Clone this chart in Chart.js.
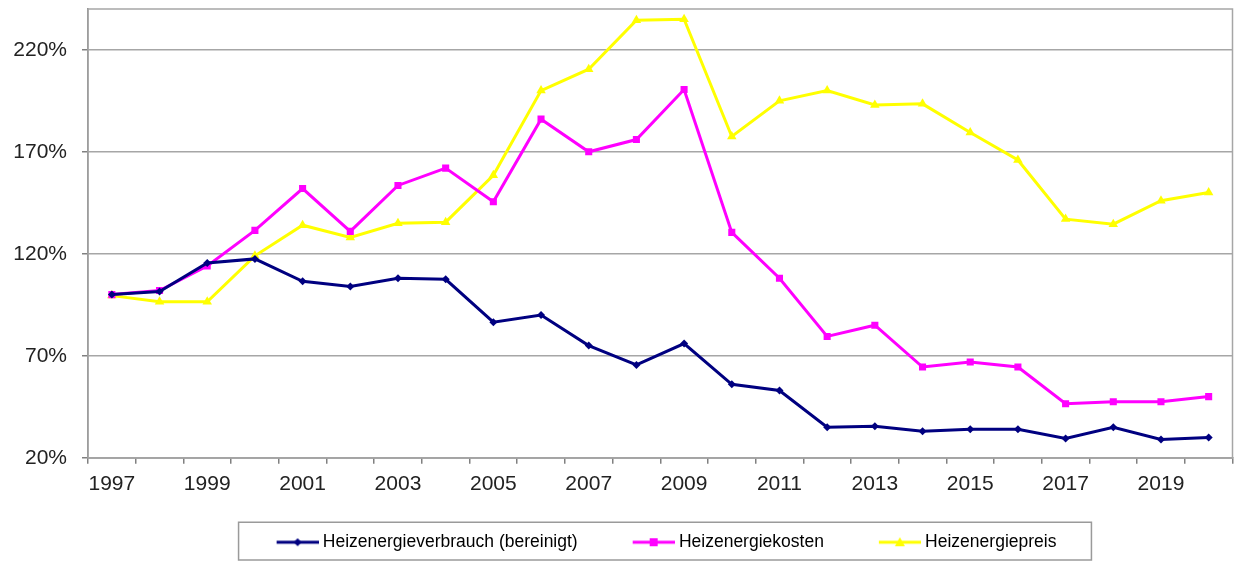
<!DOCTYPE html>
<html>
<head>
<meta charset="utf-8">
<script src="https://cdn.jsdelivr.net/npm/chart.js@4/dist/chart.umd.min.js"></script>
<style>
  html, body { margin: 0; padding: 0; background: #fff; overflow: hidden; }
  #wrap { width: 1238px; height: 561px; }
  canvas { display: block; }
</style>
</head>
<body>
<div id="wrap"><canvas id="myChart"></canvas></div>
<script>
const years = ['1997', '1998', '1999', '2000', '2001', '2002', '2003', '2004', '2005', '2006', '2007', '2008',
               '2009', '2010', '2011', '2012', '2013', '2014', '2015', '2016', '2017', '2018', '2019', '2020']
const verbrauch = [100, 101.5, 115.5, 117.5, 106.5, 104, 108, 107.5, 86.5, 90, 75, 65.5,
                   76, 56, 53, 35, 35.5, 33, 34, 34, 29.5, 35, 29, 30]
const kosten = [100, 102, 114, 131.5, 152, 131, 153.5, 162, 145.5, 186, 170, 176,
                200.5, 130.5, 108, 79.5, 85, 64.5, 67, 64.5, 46.5, 47.5, 47.5, 50]
const preis = [99.5, 96.5, 96.5, 119, 134, 128, 135, 135.5, 158.5, 200, 210.5, 234.5,
               235, 177.5, 195, 200, 193, 193.5, 179.5, 166, 137, 134.5, 146, 150]
const yTicks = [20, 70, 120, 170, 220]

const font = "'Liberation Sans', Arial, sans-serif"
const gridColor = '#a6a6a6'

// line + marker picture for the legend entries; empty left part adds spacing between entries
function legendIcon(color, style) {
    const c = document.createElement('canvas')
    c.width = 73; c.height = 14
    const g = c.getContext('2d')
    g.strokeStyle = color
    g.lineWidth = 3
    g.beginPath(); g.moveTo(31, 7); g.lineTo(73, 7); g.stroke()
    g.fillStyle = color
    g.beginPath()
    const m = 52
    if (style === 'rectRot') {
        g.moveTo(m, 3); g.lineTo(m + 4, 7); g.lineTo(m, 11); g.lineTo(m - 4, 7)
    } else if (style === 'rect') {
        g.rect(m - 4, 3, 8, 8)
    } else {
        g.moveTo(m, 2); g.lineTo(m + 5, 11); g.lineTo(m - 5, 11)
    }
    g.closePath(); g.fill()
    return c
}

// legend centred under the plot area and boxed, plot area framed
const framePlugin = {
    id: 'frame',
    afterLayout(chart) {
        chart.legend.left = chart.chartArea.left - 14
        chart.legend.right = chart.chartArea.right
    },
    beforeDatasetsDraw(chart) {
        const {ctx, chartArea: a} = chart
        ctx.save()
        ctx.strokeStyle = gridColor
        ctx.lineWidth = 1.5
        ctx.strokeRect(a.left, a.top, a.right - a.left, a.bottom - a.top)
        ctx.restore()
    },
    afterDraw(chart) {
        const boxes = chart.legend.legendHitBoxes
        if (!boxes || !boxes.length) return
        const left = Math.min(...boxes.map(b => b.left)) + 26.5 - 38
        const right = Math.max(...boxes.map(b => b.left + b.width)) + 35
        const mid = boxes[0].top + boxes[0].height / 2
        const ctx = chart.ctx
        ctx.save()
        ctx.strokeStyle = '#9a9a9a'
        ctx.lineWidth = 1.5
        ctx.strokeRect(left, mid - 20, right - left, chart.height - (mid - 20) - 1)
        ctx.restore()
    }
}

const series = [
    {label: 'Heizenergieverbrauch (bereinigt)', data: verbrauch, color: '#000080', style: 'rectRot', r: 4},
    {label: 'Heizenergiekosten', data: kosten, color: '#ff00ff', style: 'rect', r: 5},
    {label: 'Heizenergiepreis', data: preis, color: '#ffff00', style: 'triangle', r: 5.5}
]

const ctx = document.getElementById('myChart').getContext('2d')
const myChart = new Chart(ctx, {
    type: 'line',
    data: {
        labels: years,
        datasets: series.map(s => ({
            label: s.label,
            data: s.data,
            borderColor: s.color,
            backgroundColor: s.color,
            borderWidth: 3,
            pointStyle: s.style,
            pointRadius: s.r,
            pointBorderWidth: 0,
            tension: 0
        }))
    },
    options: {
        responsive: true,
        maintainAspectRatio: false,
        animation: false,
        layout: {padding: {left: 13, right: 2, top: 9, bottom: 0}},
        plugins: {
            tooltip: {enabled: false},
            legend: {
                position: 'bottom',
                labels: {
                    usePointStyle: true,
                    pointStyleWidth: 64,
                    padding: 28.5,
                    color: '#111',
                    font: {family: font, size: 17.5},
                    generateLabels: chart => series.map((s, i) => ({
                        text: s.label,
                        pointStyle: legendIcon(s.color, s.style),
                        fillStyle: s.color,
                        strokeStyle: s.color,
                        lineWidth: 0,
                        datasetIndex: i,
                        hidden: false
                    }))
                }
            }
        },
        scales: {
            x: {
                offset: true,
                grid: {
                    offset: true,
                    drawOnChartArea: false,
                    drawTicks: true,
                    tickLength: 6,
                    color: '#808080',
                    lineWidth: 1.5
                },
                border: {color: '#808080', width: 1.5},
                ticks: {
                    autoSkip: false,
                    maxRotation: 0,
                    padding: 8,
                    color: '#222',
                    font: {family: font, size: 21},
                    callback: (v, i) => i % 2 === 0 ? years[i] : ''
                },
                afterFit: scale => { scale.paddingLeft = 0; scale.paddingRight = 0 }
            },
            y: {
                min: 20,
                max: 240,
                afterBuildTicks: scale => { scale.ticks = yTicks.map(v => ({value: v})) },
                afterFit: scale => { scale.paddingTop = 0; scale.width = 75 },
                grid: {
                    color: gridColor,
                    lineWidth: 1.5,
                    tickLength: 6,
                    tickColor: '#808080'
                },
                border: {color: '#808080', width: 1.5},
                ticks: {
                    padding: 15,
                    color: '#222',
                    font: {family: font, size: 21},
                    callback: v => v + '%'
                }
            }
        }
    },
    plugins: [framePlugin]
})
</script>
</body>
</html>
